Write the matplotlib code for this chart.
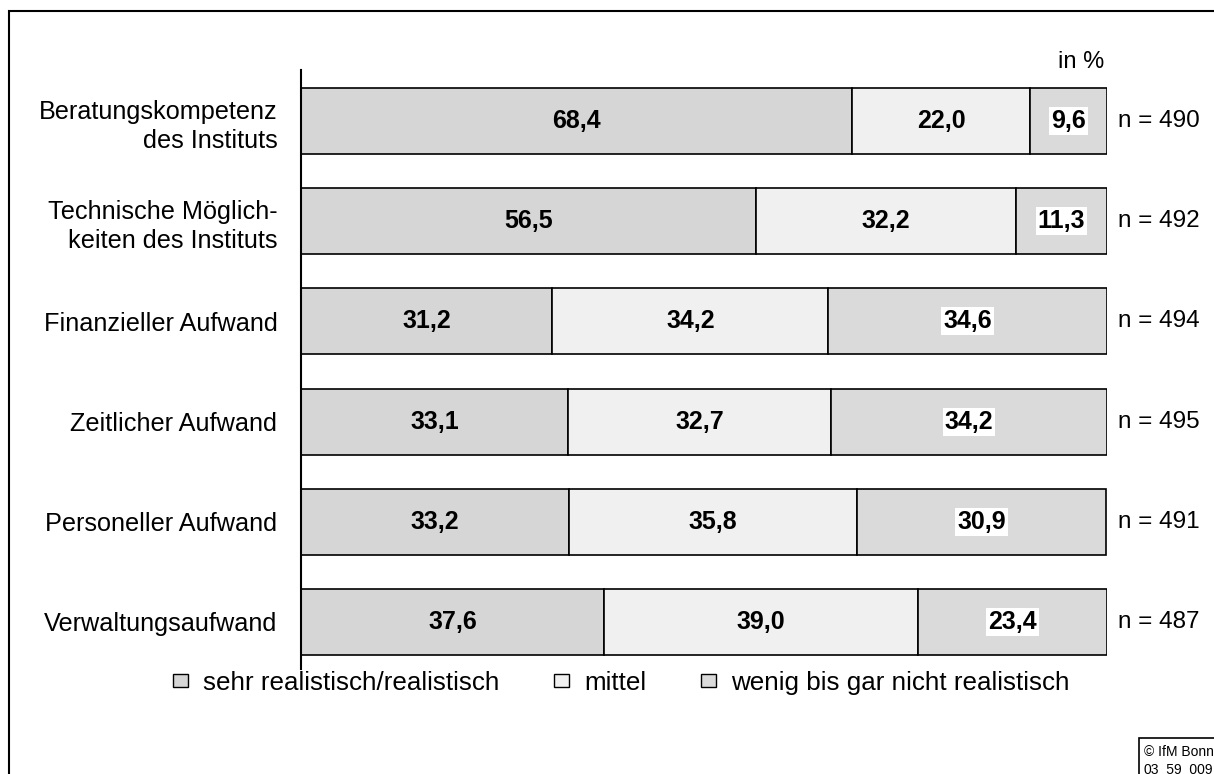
import matplotlib
matplotlib.use('Agg')
import matplotlib.pyplot as plt
from matplotlib.patches import Patch, Rectangle

plt.rcParams['font.family'] = ['Liberation Sans', 'DejaVu Sans']

# survey data, shares in percent
categories = ['Beratungskompetenz\ndes Instituts',
              'Technische Möglich-\nkeiten des Instituts',
              'Finanzieller Aufwand',
              'Zeitlicher Aufwand',
              'Personeller Aufwand',
              'Verwaltungsaufwand']
sehr_realistisch = [68.4, 56.5, 31.2, 33.1, 33.2, 37.6]
mittel = [22.0, 32.2, 34.2, 32.7, 35.8, 39.0]
wenig_realistisch = [9.6, 11.3, 34.6, 34.2, 30.9, 23.4]
n_values = [490, 492, 494, 495, 491, 487]
series_names = ['sehr realistisch/realistisch', 'mittel', 'wenig bis gar nicht realistisch']

COLORS = ['#d6d6d6', '#f0f0f0', '#dadada']

W, H = 1214, 774
fig = plt.figure(figsize=(W / 100, H / 100), dpi=100)
ax = fig.add_axes([301 / W, 1 - 669 / H, 806 / W, 599 / H])

ypos = list(range(len(categories)))
series = [sehr_realistisch, mittel, wenig_realistisch]
left = [0.0] * len(categories)
for k, vals in enumerate(series):
    ax.barh(ypos, vals, left=left, height=0.66, color=COLORS[k],
            edgecolor='black', linewidth=1.2, zorder=2)
    for i, v in enumerate(vals):
        cx = left[i] + v / 2
        label = f'{v:.1f}'.replace('.', ',')
        if k == 2:
            ax.text(cx, i, label, ha='center', va='center', fontsize=18,
                    fontweight='bold', zorder=3,
                    bbox=dict(facecolor='white', edgecolor='none', pad=1.5))
        else:
            ax.text(cx, i, label, ha='center', va='center', fontsize=18,
                    fontweight='bold', zorder=3)
    left = [l + v for l, v in zip(left, vals)]

for i, n in enumerate(n_values):
    ax.text(101.4, i, f'n = {n}', ha='left', va='center', fontsize=17.5,
            clip_on=False)
ax.text(99.7, -0.59, 'in %', ha='right', va='center', fontsize=17, clip_on=False)

ax.set_xlim(0, 100)
ax.set_ylim(5.47, -0.51)
ax.set_yticks(ypos)
ax.set_yticklabels(categories, fontsize=18.2, ha='right', multialignment='right',
                   linespacing=1.3)
ax.tick_params(axis='y', length=0, pad=17)
ax.set_xticks([])
for side in ['top', 'right', 'bottom']:
    ax.spines[side].set_visible(False)
ax.spines['left'].set_linewidth(1.5)

handles = [Patch(facecolor=c, edgecolor='black', linewidth=1.0, label=s)
           for c, s in zip(COLORS, series_names)]
fig.legend(handles=handles, loc='center', bbox_to_anchor=(621 / W, 1 - 683 / H),
           ncol=3, frameon=False, fontsize=18.7, handlelength=0.58,
           handleheight=0.42, handletextpad=0.58, columnspacing=2.1)

# outer frame and source box
fig.add_artist(Rectangle((9 / W, -0.5), 2, 1.5 - 11 / H, transform=fig.transFigure,
                         fill=False, edgecolor='black', linewidth=1.5))
fig.add_artist(Rectangle((1139 / W, -0.5), 1, 0.5 + (1 - 738 / H),
                         transform=fig.transFigure, fill=False,
                         edgecolor='black', linewidth=1.2))
fig.text(1144 / W, 1 - 745 / H, '© IfM Bonn\n03_59_009', ha='left', va='top',
         fontsize=10, linespacing=1.3, transform=fig.transFigure)

fig.savefig('out.png', dpi=100)
